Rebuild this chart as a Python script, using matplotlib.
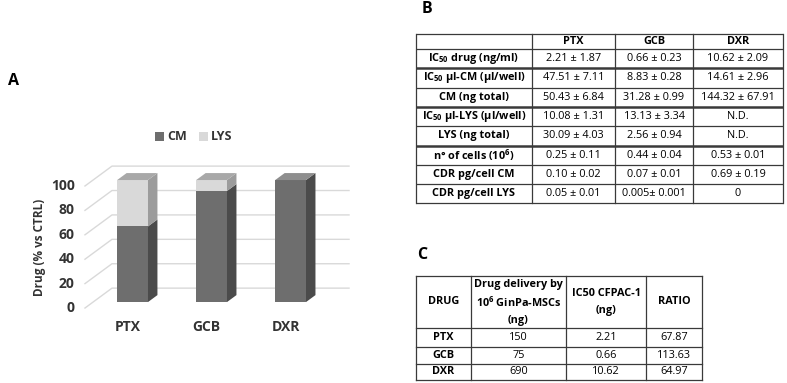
import numpy as np
import matplotlib
matplotlib.use('Agg')
import matplotlib.pyplot as plt
from matplotlib.patches import Polygon, Patch

FONT = 'Open Sans'
plt.rcParams['font.family'] = [FONT, 'DejaVu Sans']
plt.rcParams['mathtext.fontset'] = 'custom'
plt.rcParams['mathtext.rm'] = FONT
plt.rcParams['mathtext.bf'] = FONT + ':bold'

# ── data ─────────────────────────────────────────────────────────────────────
drugs = ['PTX', 'GCB', 'DXR']
cm_pct = [62, 91, 100]
lys_pct = [38, 9, 0]
yticks = [0, 20, 40, 60, 80, 100]

b_cols = ['PTX', 'GCB', 'DXR']
b_rows = [r'IC$_{\mathbf{50}}$ drug (ng/ml)',
          r'IC$_{\mathbf{50}}$ µl-CM (µl/well)',
          'CM (ng total)',
          r'IC$_{\mathbf{50}}$ µl-LYS (µl/well)',
          'LYS (ng total)',
          r'n° of cells (10$^{\mathbf{6}}$)',
          'CDR pg/cell CM',
          'CDR pg/cell LYS']
b_ptx = ['2.21 ± 1.87', '47.51 ± 7.11', '50.43 ± 6.84', '10.08 ± 1.31',
         '30.09 ± 4.03', '0.25 ± 0.11', '0.10 ± 0.02', '0.05 ± 0.01']
b_gcb = ['0.66 ± 0.23', '8.83 ± 0.28', '31.28 ± 0.99', '13.13 ± 3.34',
         '2.56 ± 0.94', '0.44 ± 0.04', '0.07 ± 0.01', '0.005± 0.001']
b_dxr = ['10.62 ± 2.09', '14.61 ± 2.96', '144.32 ± 67.91', 'N.D.',
         'N.D.', '0.53 ± 0.01', '0.69 ± 0.19', '0']

c_head = ['DRUG',
          ['Drug delivery by', r'10$^{\mathbf{6}}$ GinPa-MSCs', '(ng)'],
          ['IC50 CFPAC-1', '(ng)'],
          'RATIO']
c_drugs = ['PTX', 'GCB', 'DXR']
c_delivery = ['150', '75', '690']
c_ic50 = ['2.21', '0.66', '10.62']
c_ratio = ['67.87', '113.63', '64.97']

# ── colours ──────────────────────────────────────────────────────────────────
CM_FRONT, CM_SIDE, CM_TOP = '#6e6e6e', '#4b4b4b', '#8e8e8e'
LYS_FRONT, LYS_SIDE, LYS_TOP = '#d9d9d9', '#9c9c9c', '#a8a8a8'
GRID = '#d9d9d9'
TXT = '#333333'
LINE = '#3a3a3a'

fig = plt.figure(figsize=(7.87, 3.83), dpi=100, facecolor='white')

# overlay in pixel coordinates for the tables and panel letters
ov = fig.add_axes([0, 0, 1, 1])
ov.set_xlim(0, 787)
ov.set_ylim(383, 0)
ov.axis('off')
ov.patch.set_alpha(0)

# ── panel A: pseudo-3D stacked bars ──────────────────────────────────────────
ax = fig.add_axes([60 / 787, 43 / 383, 300 / 787, 190 / 383])
ax.set_xlim(-0.816, 2.981)
ax.set_ylim(-26.2, 129.5)
ax.axis('off')
ax.patch.set_alpha(0)

DX, DY = 0.342, 16.3      # depth vector of the walls
d0, d1 = 0.3, 0.65        # bar front / back depth
W = 0.39

for v in yticks:
    ax.plot([-0.5, -0.5 + DX, 2.5 + DX], [v, v + DY, v + DY],
            color=GRID, lw=1, zorder=1)
    ax.text(-0.63, v, str(v), ha='right', va='center', fontsize=10,
            fontweight='bold', color=TXT)

x = np.arange(len(drugs))
cm = np.array(cm_pct, dtype=float)
lys = np.array(lys_pct, dtype=float)
ax.bar(x + d0 * DX, cm, width=W, bottom=d0 * DY, color=CM_FRONT, zorder=3)
ax.bar(x + d0 * DX, lys, width=W, bottom=d0 * DY + cm, color=LYS_FRONT, zorder=3)

for i in x:
    xl, xr = i - W / 2, i + W / 2
    for base, hgt, col in [(0, cm[i], CM_SIDE), (cm[i], lys[i], LYS_SIDE)]:
        if hgt <= 0:
            continue
        pts = [(xr + d0 * DX, base + d0 * DY), (xr + d0 * DX, base + hgt + d0 * DY),
               (xr + d1 * DX, base + hgt + d1 * DY), (xr + d1 * DX, base + d1 * DY)]
        ax.add_patch(Polygon(pts, closed=True, facecolor=col, edgecolor='none', zorder=3))
    top = cm[i] + lys[i]
    tcol = LYS_TOP if lys[i] > 0 else CM_TOP
    pts = [(xl + d0 * DX, top + d0 * DY), (xr + d0 * DX, top + d0 * DY),
           (xr + d1 * DX, top + d1 * DY), (xl + d1 * DX, top + d1 * DY)]
    ax.add_patch(Polygon(pts, closed=True, facecolor=tcol, edgecolor='none', zorder=3))
    ax.text(i + 0.04, -15.6, drugs[i], ha='center', va='center', fontsize=10,
            fontweight='bold', color=TXT)

ax.text(-1.07, 50, 'Drug (% vs CTRL)', rotation=90, ha='center', va='center',
        fontsize=8.5, fontweight='bold', color=TXT)

fig.legend(handles=[Patch(facecolor=CM_FRONT), Patch(facecolor=LYS_FRONT)],
           labels=['CM', 'LYS'], loc='center', ncol=2, frameon=False,
           bbox_to_anchor=(194 / 787, 1 - 137 / 383), bbox_transform=fig.transFigure,
           handlelength=0.7, handleheight=0.7, handletextpad=0.3, columnspacing=0.9,
           prop=dict(weight='bold', size=9), labelcolor=TXT)

ov.text(13, 81, 'A', ha='center', va='center', fontsize=11.5, fontweight='bold')
ov.text(427, 9, 'B', ha='center', va='center', fontsize=11.5, fontweight='bold')
ov.text(422, 255, 'C', ha='center', va='center', fontsize=11.5, fontweight='bold')

# ── panel B: table ───────────────────────────────────────────────────────────
FS = 7.8
bx = [416, 532, 615, 693, 783]
by = [34, 49] + [49 + 19.3 * k for k in range(1, len(b_rows) + 1)]
thick = {2, 4, 6}
for k, y in enumerate(by):
    ov.plot([bx[0], bx[-1]], [y, y], color=LINE, lw=1.8 if k in thick else 0.9,
            solid_capstyle='butt')
for xv in bx:
    ov.plot([xv, xv], [by[0], by[-1]], color=LINE, lw=0.9)

for j, name in enumerate(b_cols):
    ov.text((bx[j + 1] + bx[j + 2]) / 2, (by[0] + by[1]) / 2, name, ha='center',
            va='center', fontsize=FS, fontweight='bold')
for r, label in enumerate(b_rows):
    yc = (by[r + 1] + by[r + 2]) / 2
    ov.text((bx[0] + bx[1]) / 2, yc, label, ha='center', va='center',
            fontsize=FS, fontweight='bold')
    for j, vals in enumerate([b_ptx, b_gcb, b_dxr]):
        ov.text((bx[j + 1] + bx[j + 2]) / 2, yc, vals[r], ha='center',
                va='center', fontsize=FS)

# ── panel C: table ───────────────────────────────────────────────────────────
cx = [416, 471, 566, 646, 702]
cy = [276, 328, 347, 364, 380]
for y in cy:
    ov.plot([cx[0], cx[-1]], [y, y], color=LINE, lw=0.9)
for xv in cx:
    ov.plot([xv, xv], [cy[0], cy[-1]], color=LINE, lw=0.9)

hmid = (cy[0] + cy[1]) / 2
for j, head in enumerate(c_head):
    xc = (cx[j] + cx[j + 1]) / 2
    lines = head if isinstance(head, list) else [head]
    n = len(lines)
    for k, line in enumerate(lines):
        ov.text(xc, hmid + (k - (n - 1) / 2) * 18, line, ha='center',
                va='center', fontsize=FS, fontweight='bold')
for r in range(len(c_drugs)):
    yc = (cy[r + 1] + cy[r + 2]) / 2
    ov.text((cx[0] + cx[1]) / 2, yc, c_drugs[r], ha='center', va='center',
            fontsize=FS, fontweight='bold')
    for j, vals in enumerate([c_delivery, c_ic50, c_ratio]):
        ov.text((cx[j + 1] + cx[j + 2]) / 2, yc, vals[r], ha='center',
                va='center', fontsize=FS)

fig.savefig('out.png', dpi=100, facecolor='white')
